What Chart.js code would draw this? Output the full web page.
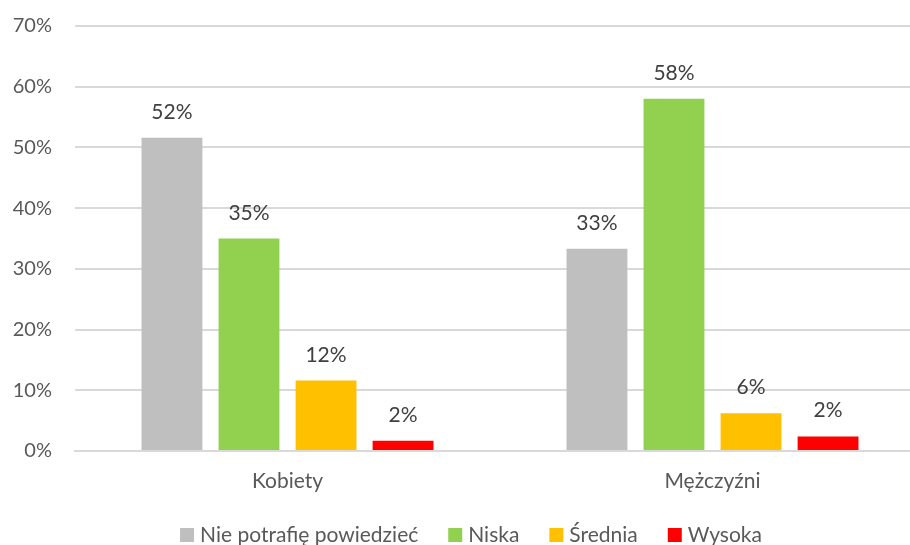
<!DOCTYPE html>
<html lang="pl">
<head>
    <meta charset="UTF-8">
    <title>Kobiety / Mężczyźni</title>
    <script src="https://cdn.jsdelivr.net/npm/chart.js"></script>
    <style>
        html, body {
            margin: 0;
            padding: 0;
            background: #ffffff;
            overflow: hidden;
        }
        #wrap {
            width: 952px; /* wider than window: plot area runs past the right edge like the original */
            height: 545px;
        }
    </style>
</head>
<body>
    <div id="wrap"><canvas id="chart"></canvas></div>

    <script>
        // categories and series
        var categories = ['Kobiety', 'Mężczyźni'];
        var seriesNames = ['Nie potrafię powiedzieć', 'Niska', 'Średnia', 'Wysoka'];
        var nieWiem = [51.6, 33.3];
        var niska = [35.0, 58.0];
        var srednia = [11.6, 6.2];
        var wysoka = [1.7, 2.4];
        var colors = ['#BFBFBF', '#92D050', '#FFC000', '#FF0000'];

        var font = "Lato, 'Open Sans', sans-serif";

        // value labels above bars (no datalabels plugin available)
        var barLabels = {
            id: 'barLabels',
            afterDatasetsDraw: function (chart) {
                var ctx = chart.ctx;
                ctx.save();
                ctx.font = '21px ' + font;
                ctx.fillStyle = '#404040';
                ctx.textAlign = 'center';
                ctx.textBaseline = 'alphabetic';
                chart.data.datasets.forEach(function (ds, i) {
                    chart.getDatasetMeta(i).data.forEach(function (bar, j) {
                        ctx.fillText(Math.round(ds.data[j]) + '%', bar.x, bar.y - 19);
                    });
                });
                ctx.restore();
            }
        };

        // legend drawn by hand so it sits where the original one does
        var bottomLegend = {
            id: 'bottomLegend',
            afterDraw: function (chart) {
                var ctx = chart.ctx;
                var box = 14, gap = 6, between = 30, cy = 535;
                ctx.save();
                ctx.font = '21px ' + font;
                var widths = chart.data.datasets.map(function (ds) {
                    return box + gap + ctx.measureText(ds.label).width;
                });
                var total = widths.reduce(function (a, b) { return a + b; }, 0) + between * (widths.length - 1);
                var x = 471 - total / 2;
                ctx.textBaseline = 'alphabetic';
                ctx.textAlign = 'left';
                chart.data.datasets.forEach(function (ds, i) {
                    ctx.fillStyle = ds.backgroundColor;
                    ctx.fillRect(x, cy - box / 2, box, box);
                    ctx.fillStyle = '#595959';
                    ctx.fillText(ds.label, x + box + gap, cy + 7);
                    x += widths[i] + between;
                });
                ctx.restore();
            }
        };

        var ctx = document.getElementById('chart').getContext('2d');
        new Chart(ctx, {
            type: 'bar',
            data: {
                labels: categories,
                datasets: [
                    { label: seriesNames[0], data: nieWiem, backgroundColor: colors[0] },
                    { label: seriesNames[1], data: niska, backgroundColor: colors[1] },
                    { label: seriesNames[2], data: srednia, backgroundColor: colors[2] },
                    { label: seriesNames[3], data: wysoka, backgroundColor: colors[3] }
                ]
            },
            options: {
                responsive: true,
                maintainAspectRatio: false,
                animation: false,
                devicePixelRatio: 1,
                categoryPercentage: 0.725,
                barPercentage: 0.79,
                layout: {
                    padding: { top: 26, right: 27, left: 0, bottom: 0 }
                },
                plugins: {
                    legend: { display: false },
                    tooltip: { enabled: false }
                },
                scales: {
                    x: {
                        afterFit: function (scale) { scale.height = 94; },
                        grid: { display: false, drawTicks: false },
                        border: { color: '#D9D9D9', width: 2 },
                        ticks: {
                            color: '#595959',
                            font: { family: font, size: 21 },
                            padding: 18
                        }
                    },
                    y: {
                        min: 0,
                        max: 70,
                        afterFit: function (scale) {
                            scale.width = 75;
                            scale.paddingTop = 0;
                            scale.paddingBottom = 0;
                        },
                        grid: { color: '#D9D9D9', lineWidth: 2, drawTicks: false },
                        border: { display: false },
                        ticks: {
                            stepSize: 10,
                            color: '#595959',
                            font: { family: font, size: 20 },
                            padding: 23,
                            callback: function (v) { return v + '%'; }
                        }
                    }
                }
            },
            plugins: [barLabels, bottomLegend]
        });
    </script>
</body>
</html>
